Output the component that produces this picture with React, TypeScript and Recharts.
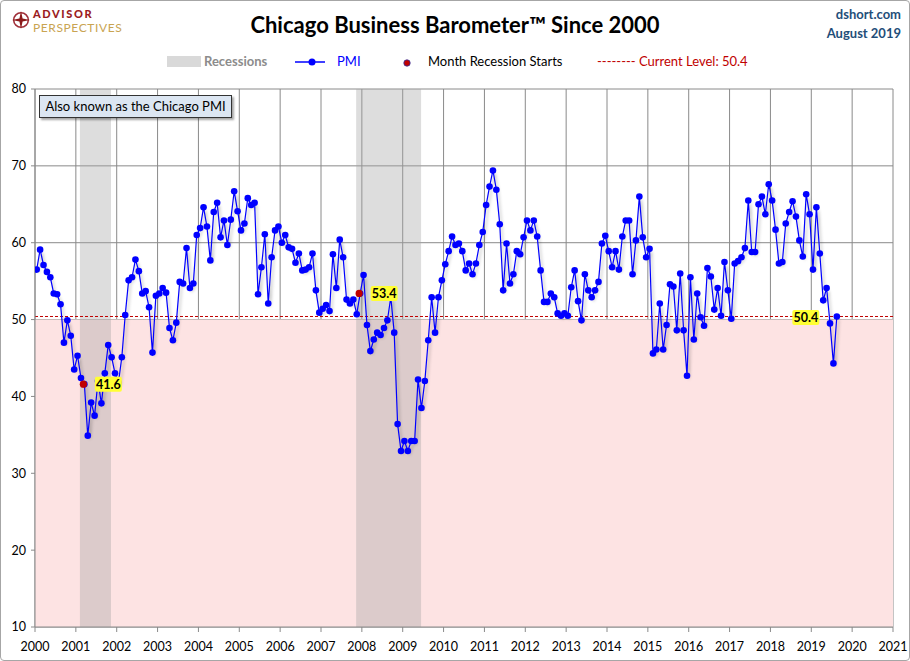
import React from "react";
import {
  CartesianGrid,
  ComposedChart,
  Line,
  ReferenceArea,
  ReferenceLine,
  Scatter,
  XAxis,
  YAxis,
} from "recharts";

// monthly Chicago PMI readings
const pmi2000 = [56.5, 59.1, 57.1, 56.2, 55.5, 53.4, 53.3, 52.0, 47.0, 49.9, 47.9, 43.5];
const pmi2001 = [45.3, 42.4, 41.6, 34.9, 39.2, 37.5, 42.0, 39.1, 43.0, 46.7, 45.1, 43.0];
const pmi2002 = [41.8, 45.1, 50.6, 55.1, 55.5, 57.8, 56.3, 53.4, 53.7, 51.6, 45.7, 53.1];
const pmi2003 = [53.4, 54.1, 53.5, 48.9, 47.3, 49.6, 54.9, 54.7, 59.3, 54.1, 54.7, 61.0];
const pmi2004 = [61.9, 64.6, 62.1, 57.7, 64.0, 65.2, 60.7, 62.9, 59.7, 63.0, 66.7, 64.1];
const pmi2005 = [61.6, 62.5, 65.8, 64.9, 65.2, 53.3, 56.8, 61.1, 52.1, 58.1, 61.6, 62.1];
const pmi2006 = [60.0, 61.0, 59.4, 59.2, 57.4, 58.6, 56.4, 56.5, 56.8, 58.6, 53.8, 50.9];
const pmi2007 = [51.4, 51.9, 51.1, 58.5, 54.1, 60.4, 58.1, 52.6, 52.1, 52.6, 50.7, 53.4];
const pmi2008 = [55.8, 49.3, 45.9, 47.4, 48.3, 48.0, 48.9, 49.9, 52.9, 48.3, 36.4, 32.9];
const pmi2009 = [34.2, 32.9, 34.2, 34.2, 42.2, 38.5, 42.0, 47.3, 52.9, 48.3, 52.9, 55.1];
const pmi2010 = [57.2, 58.9, 60.8, 59.7, 59.9, 58.9, 56.4, 57.3, 55.9, 57.3, 59.7, 61.4];
const pmi2011 = [64.9, 67.3, 69.4, 66.9, 62.4, 53.8, 59.9, 54.7, 55.9, 58.9, 58.5, 60.7];
const pmi2012 = [62.9, 61.6, 62.9, 60.8, 56.4, 52.3, 52.3, 53.4, 52.9, 50.8, 50.5, 50.8];
const pmi2013 = [50.5, 54.2, 56.4, 52.4, 49.9, 55.9, 53.8, 52.9, 53.8, 54.9, 59.9, 60.9];
const pmi2014 = [58.9, 56.8, 58.9, 56.5, 60.8, 62.9, 62.9, 55.9, 60.3, 66.0, 60.7, 58.1];
const pmi2015 = [59.2, 45.6, 46.1, 52.1, 46.1, 49.3, 54.6, 54.3, 48.6, 56.0, 48.6, 42.7];
const pmi2016 = [55.5, 47.4, 53.4, 50.3, 49.2, 56.7, 55.6, 51.3, 54.1, 50.5, 57.5, 53.8];
const pmi2017 = [50.1, 57.3, 57.6, 58.1, 59.3, 65.5, 58.8, 58.8, 65.0, 66.0, 63.7, 67.6];
const pmi2018 = [65.5, 61.7, 57.3, 57.5, 62.5, 64.0, 65.4, 63.4, 60.3, 58.2, 66.3, 63.7];
const pmi2019 = [56.5, 64.6, 58.6, 52.5, 54.1, 49.5, 44.3, 50.4];

const pmiByYear = [
  pmi2000, pmi2001, pmi2002, pmi2003, pmi2004, pmi2005, pmi2006, pmi2007, pmi2008, pmi2009,
  pmi2010, pmi2011, pmi2012, pmi2013, pmi2014, pmi2015, pmi2016, pmi2017, pmi2018, pmi2019,
];
const firstYear = 2000;

// recession bands in decimal years
const recessions = [
  [2001.1, 2001.86],
  [2007.86, 2009.45],
];
const recessionStartMonths = ["2001-03", "2007-12"];
const currentLevel = 50.4;
const contractionLevel = 50;

const yearTicks = [
  2000, 2001, 2002, 2003, 2004, 2005, 2006, 2007, 2008, 2009, 2010,
  2011, 2012, 2013, 2014, 2015, 2016, 2017, 2018, 2019, 2020, 2021,
];
const valueTicks = [10, 20, 30, 40, 50, 60, 70, 80];

const rows = pmiByYear.flatMap((vals, yi) =>
  vals.map((v, m) => ({
    x: firstYear + yi + (m + 0.5) / 12,
    pmi: v,
    month: `${firstYear + yi}-${String(m + 1).padStart(2, "0")}`,
  }))
);
const startRows = rows.filter((r) => recessionStartMonths.includes(r.month));
const lastRows = [rows[rows.length - 1]];

const font = "Lato, 'Open Sans', sans-serif";

function ValueTag({ x, y, text }: { x: number; y: number; text: string }) {
  return (
    <g>
      <rect x={x - 13.5} y={y - 7.5} width={27} height={15} rx={2} fill="#ffff33" />
      <text
        x={x}
        y={y + 0.5}
        textAnchor="middle"
        dominantBaseline="central"
        fontFamily={font}
        fontSize={12.5}
        fontWeight={700}
        fill="#000"
      >
        {text}
      </text>
    </g>
  );
}

function StartDot(props: any) {
  const { cx, cy, payload } = props;
  return (
    <g>
      <circle cx={cx - 1} cy={cy} r={3.6} fill="#c00000" />
      <ValueTag x={cx + 24} y={cy} text={payload.pmi.toFixed(1)} />
    </g>
  );
}

function CurrentTag(props: any) {
  const { cx, cy, payload } = props;
  return <ValueTag x={cx - 31} y={cy + 1} text={payload.pmi.toFixed(1)} />;
}

export default function App() {
  return (
    <div style={{ position: "relative", width: 910, height: 661, background: "#fff", fontFamily: font }}>
      <style>{`
        body { margin: 0; }
        .pmi-line .recharts-line-curve { filter: drop-shadow(2px 3px 1.5px rgba(0,0,0,0.28)); }
      `}</style>

      {/* logo */}
      <svg style={{ position: "absolute", left: 12, top: 11 }} width={18} height={18} viewBox="0 0 16 16">
        <circle cx={8} cy={8} r={6.5} fill="none" stroke="#a0303a" strokeWidth={1.4} />
        <path d="M8 0 L9.4 6.6 L16 8 L9.4 9.4 L8 16 L6.6 9.4 L0 8 L6.6 6.6 Z" fill="#8b1a1a" />
      </svg>
      <div
        style={{
          position: "absolute",
          left: 33,
          top: 8,
          color: "#9b1c22",
          fontWeight: 900,
          fontSize: 11,
          lineHeight: "12px",
          letterSpacing: 1.6,
        }}
      >
        ADVISOR
      </div>
      <div
        style={{
          position: "absolute",
          left: 33,
          top: 22,
          color: "#c9a451",
          fontSize: 12,
          lineHeight: "12px",
          letterSpacing: 0.6,
        }}
      >
        PERSPECTIVES
      </div>

      {/* title */}
      <div
        style={{
          position: "absolute",
          left: 0,
          width: 910,
          top: 11,
          textAlign: "center",
          fontSize: 22,
          fontWeight: 700,
          color: "#000",
        }}
      >
        Chicago Business Barometer™ Since 2000
      </div>

      <div
        style={{
          position: "absolute",
          right: 9,
          top: 5,
          textAlign: "right",
          color: "#1f4e79",
          fontWeight: 700,
          fontSize: 13,
          lineHeight: "19px",
        }}
      >
        <div>dshort.com</div>
        <div>August 2019</div>
      </div>

      {/* legend */}
      <div style={{ position: "absolute", top: 53, left: 0, height: 17, fontSize: 13, fontWeight: 700 }}>
        <div style={{ position: "absolute", left: 167, top: 3, width: 34, height: 11, background: "#d9d9d9" }} />
        <div style={{ position: "absolute", left: 204, top: 0, color: "#8c8c8c", whiteSpace: "nowrap" }}>Recessions</div>
        <svg style={{ position: "absolute", left: 295, top: 2 }} width={30} height={14}>
          <line x1={0} y1={7} x2={30} y2={7} stroke="#0000ff" strokeWidth={1.5} />
          <circle cx={17} cy={7} r={3.5} fill="#0000ff" />
        </svg>
        <div style={{ position: "absolute", left: 337, top: 0, color: "#0000ff", whiteSpace: "nowrap", fontWeight: 400 }}>PMI</div>
        <svg style={{ position: "absolute", left: 401, top: 2 }} width={12} height={14}>
          <circle cx={6} cy={8} r={3.2} fill="#c00000" stroke="#3030a0" strokeWidth={0.8} />
        </svg>
        <div style={{ position: "absolute", left: 428, top: 0, color: "#000", whiteSpace: "nowrap", fontWeight: 400 }}>
          Month Recession Starts
        </div>
        <div style={{ position: "absolute", left: 597, top: 0, color: "#c00000", whiteSpace: "nowrap", fontWeight: 400 }}>
          -------- Current Level: {currentLevel}
        </div>
      </div>

      <ComposedChart
        width={910}
        height={661}
        margin={{ top: 89, right: 17, bottom: 4, left: 0 }}
        style={{ position: "absolute", left: 0, top: 0 }}
      >
        <ReferenceArea
          x1={2000}
          x2={2021}
          y1={10}
          y2={contractionLevel}
          fill="#fde3e3"
          fillOpacity={1}
          stroke="none"
          ifOverflow="hidden"
        />
        {recessions.map(([a, b]) => (
          <ReferenceArea key={a} x1={a} x2={b} y1={10} y2={80} fill="#a6a6a6" fillOpacity={0.38} stroke="none" />
        ))}
        <CartesianGrid stroke="#8a8a8a" strokeWidth={1} />
        <XAxis
          dataKey="x"
          type="number"
          domain={[2000, 2021]}
          ticks={yearTicks}
          interval={0}
          allowDataOverflow
          tickSize={5}
          tickMargin={10}
          height={30}
          stroke="#8a8a8a"
          tick={{ fill: "#000", fontSize: 12.5, fontFamily: font }}
        />
        <YAxis
          type="number"
          domain={[10, 80]}
          ticks={valueTicks}
          interval={0}
          width={35}
          tickSize={4}
          tickMargin={5}
          stroke="#8a8a8a"
          tick={{ fill: "#000", fontSize: 12.5, fontFamily: font }}
        />
        <ReferenceLine y={currentLevel} stroke="#c00000" strokeDasharray="3 2" strokeWidth={1} />
        <Line
          className="pmi-line"
          data={rows}
          dataKey="pmi"
          type="linear"
          stroke="#0000ff"
          strokeWidth={1.2}
          dot={{ r: 3.3, fill: "#0000ff", stroke: "#0000ff", strokeWidth: 0 }}
          isAnimationActive={false}
        />
        <Scatter data={startRows} dataKey="pmi" shape={StartDot} isAnimationActive={false} />
        <Scatter data={lastRows} dataKey="pmi" shape={CurrentTag} isAnimationActive={false} />
      </ComposedChart>

      {/* note box */}
      <div
        style={{
          position: "absolute",
          left: 39,
          top: 95,
          width: 193,
          height: 23,
          boxSizing: "border-box",
          border: "1px solid #333",
          background: "#dce6f2",
          boxShadow: "2px 2px 2px rgba(0,0,0,0.35)",
          fontSize: 13,
          lineHeight: "21px",
          textAlign: "center",
          color: "#000",
          whiteSpace: "nowrap",
        }}
      >
        Also known as the Chicago PMI
      </div>

      <div
        style={{
          position: "absolute",
          inset: 0,
          border: "1px solid #a6a6a6",
          borderRadius: 4,
          pointerEvents: "none",
        }}
      />
    </div>
  );
}
